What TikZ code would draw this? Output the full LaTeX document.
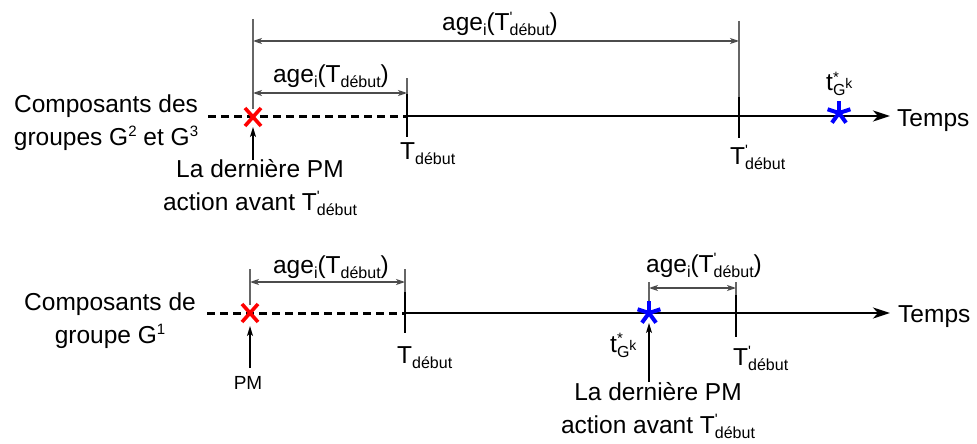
\documentclass[tikz,border=0pt]{standalone}
\usepackage{fontspec}
\setmainfont{Liberation Sans}
\usetikzlibrary{arrows.meta,calc}
\newcommand\sbt[1]{\raisebox{-5pt}{\fontsize{16}{16}\selectfont #1}}
\newcommand\spt[1]{\raisebox{9pt}{\fontsize{15}{15}\selectfont #1}}
\newcommand\Tdeb{T\sbt{début}}
\newcommand\Tpdeb{T\rlap{\spt{\textquotesingle}}\sbt{début}}
\newcommand\agei{age\sbt{i}}
\newcommand\tgk{t\rlap{\spt{*}}\sbt{G\raisebox{7pt}{\fontsize{14}{14}\selectfont k}}}
\begin{document}
\begin{tikzpicture}[x=1pt,y=-1pt,
  txt/.style={inner sep=0pt,font=\fontsize{24.5}{33}\selectfont},
  axisdash/.style={line width=3pt,dash pattern=on 8pt off 5pt},
  axissolid/.style={line width=2.5pt,-{Stealth[length=17pt,width=11pt,inset=5pt]}},
  tickthick/.style={line width=2.5pt},
  thin/.style={line width=1.4pt,draw=black!60},
  dim/.style={line width=1.4pt,draw=black!70,{Stealth[length=9pt,width=6pt,inset=2.5pt]}-{Stealth[length=9pt,width=6pt,inset=2.5pt]}},
  uparr/.style={line width=1.4pt,-{Stealth[length=10pt,width=6pt,inset=2.5pt]}},
  redx/.style={line width=3.6pt,draw=red},
  star/.style={line width=4pt,draw=blue}]
\useasboundingbox (0,0) rectangle (977,444);

% ================= TOP ROW =================
\coordinate (a0) at (208,116);
\coordinate (a1) at (407,116);
\coordinate (a2) at (890,116);
\draw[axisdash] (a0) -- (a1);
\draw[axissolid] (a1) -- (a2);
\node[txt,anchor=base west] (temps1) at (897,126) {Temps};

\node[txt,align=center,anchor=base] (comp1) at (106,145) {Composants des\\groupes G\spt{2} et G\spt{3}};

% X mark
\coordinate (x1) at (253,117);
\draw[redx] ($(x1)+(-8,-9)$) -- ($(x1)+(8,9)$);
\draw[redx] ($(x1)+(8,-9)$) -- ($(x1)+(-8,9)$);

% verticals
\coordinate (v1t) at (253,19);
\coordinate (v1b) at (253,109);
\draw[thin] (v1t) -- (v1b);
\coordinate (t1t) at (407,78);
\coordinate (t1m) at (407,100);
\draw[thin] (t1t) -- (t1m);
\coordinate (k1t) at (407,94);
\coordinate (k1b) at (407,137);
\draw[tickthick] (k1t) -- (k1b);
\coordinate (t2t) at (739,21);
\coordinate (t2m) at (739,100);
\draw[thin] (t2t) -- (t2m);
\coordinate (k2t) at (739,97);
\coordinate (k2b) at (739,138);
\draw[tickthick] (k2t) -- (k2b);

% dimension arrows
\coordinate (d1a) at (253,41);
\coordinate (d1b) at (739,41);
\draw[dim] (d1a) -- (d1b);
\coordinate (d2a) at (253,93);
\coordinate (d2b) at (407,93);
\draw[dim] (d2a) -- (d2b);
\node[txt,anchor=base] (age1) at (500,31) {\agei(\Tpdeb)};
\node[txt,anchor=base] (age2) at (331,82) {\agei(\Tdeb)};

% labels below ticks
\node[txt,anchor=base west] (td1) at (400,159) {\Tdeb};
\node[txt,anchor=base west] (tpd1) at (730,164) {\Tpdeb};

% star
\coordinate (s1) at (839,113);
\foreach \a in {90,18,162,234,306} \draw[star] (s1) -- ++(\a:-12);
\node[txt,anchor=base west] (tg1) at (826,91) {\tgk};

% arrow to X
\coordinate (p1) at (253,160);
\coordinate (p1e) at (253,127);
\draw[uparr] (p1) -- (p1e);
\node[txt,align=center,anchor=base] (ld1) at (260,210) {La dernière PM\\action avant \Tpdeb};

% ================= BOTTOM ROW =================
\coordinate (b0) at (207,313);
\coordinate (b1) at (405,313);
\coordinate (b2) at (890,313);
\draw[axisdash] (b0) -- (b1);
\draw[axissolid] (b1) -- (b2);
\node[txt,anchor=base west] (temps2) at (898,322) {Temps};

\node[txt,align=center,anchor=base] (comp2) at (110,343) {Composants de\\groupe G\spt{1}};

\coordinate (x2) at (250,313);
\draw[redx] ($(x2)+(-8,-9)$) -- ($(x2)+(8,9)$);
\draw[redx] ($(x2)+(8,-9)$) -- ($(x2)+(-8,9)$);

\coordinate (w1t) at (250,269);
\coordinate (w1b) at (250,305);
\draw[thin] (w1t) -- (w1b);
\coordinate (u1t) at (405,269);
\coordinate (u1m) at (405,296);
\draw[thin] (u1t) -- (u1m);
\coordinate (m1t) at (405,292);
\coordinate (m1b) at (405,333);
\draw[tickthick] (m1t) -- (m1b);

\coordinate (e1a) at (250,282);
\coordinate (e1b) at (405,282);
\draw[dim] (e1a) -- (e1b);
\node[txt,anchor=base] (age3) at (331,273) {\agei(\Tdeb)};

\coordinate (p2) at (250,368);
\coordinate (p2e) at (250,326);
\draw[uparr] (p2) -- (p2e);
\node[inner sep=0pt,font=\fontsize{19}{22}\selectfont,anchor=base] (pm) at (248,389) {PM};

\node[txt,anchor=base west] (td2) at (397,363) {\Tdeb};

% star bottom
\coordinate (s2) at (649,313);
\coordinate (w2t) at (649,282);
\coordinate (w2b) at (649,302);
\draw[thin] (w2t) -- (w2b);
\coordinate (u2t) at (736,282);
\coordinate (u2m) at (736,300);
\draw[thin] (u2t) -- (u2m);
\coordinate (m2t) at (736,295);
\coordinate (m2b) at (736,337);
\draw[tickthick] (m2t) -- (m2b);
\coordinate (e2a) at (649,288);
\coordinate (e2b) at (736,288);
\draw[dim] (e2a) -- (e2b);
\node[txt,anchor=base] (age4) at (704,272) {\agei(\Tpdeb)};
\foreach \a in {90,18,162,234,306} \draw[star] (s2) -- ++(\a:-12);

\coordinate (p3) at (649,382);
\coordinate (p3e) at (649,323);
\draw[uparr] (p3) -- (p3e);
\node[txt,anchor=base west] (tg2) at (610,352) {\tgk};
\node[txt,anchor=base west] (tpd2) at (733,365) {\Tpdeb};
\node[txt,align=center,anchor=base] (ld2) at (658,433) {La dernière PM\\action avant \Tpdeb};
\end{tikzpicture}
\end{document}
